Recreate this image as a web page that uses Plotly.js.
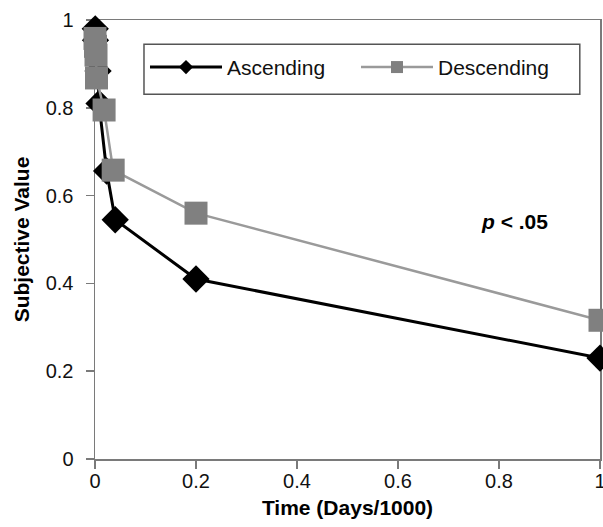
<!DOCTYPE html>
<html>
<head>
<meta charset="utf-8">
<script src="https://cdn.plot.ly/plotly-3.0.1.min.js"></script>
<style>html,body{margin:0;padding:0;background:#fff;}#chart{width:603px;height:527px;}</style>
</head>
<body>
<div id="chart"></div>
<script>
// Data (Time in Days/1000, Subjective Value)
var ascX = [0.0005, 0.001, 0.006, 0.008, 0.023, 0.04, 0.2, 1.0];
var ascY = [0.98, 0.954, 0.884, 0.81, 0.656, 0.545, 0.41, 0.23];
var descX = [0.0, 0.001, 0.002, 0.003, 0.018, 0.036, 0.2, 1.0];
var descY = [0.958, 0.94, 0.92, 0.868, 0.795, 0.658, 0.56, 0.316];
var seriesNames = ["Ascending", "Descending"];
var xTicks = [0, 0.2, 0.4, 0.6, 0.8, 1];
var xTickText = ["0", "0.2", "0.4", "0.6", "0.8", "1"];
var yTicks = [0, 0.2, 0.4, 0.6, 0.8, 1];
var yTickText = ["0", "0.2", "0.4", "0.6", "0.8", "1"];

var axisColor = "#7a7a7a";
var font = "Liberation Sans, Arial, sans-serif";
var ascColor = "#000000", descLine = "#9a9a9a", descMarker = "#808080";

var traces = [
  {
    x: ascX, y: ascY, name: seriesNames[0], type: "scatter", mode: "lines+markers",
    line: {color: ascColor, width: 3},
    marker: {symbol: "diamond", size: 21, color: ascColor},
    cliponaxis: false, showlegend: false
  },
  {
    x: descX, y: descY, name: seriesNames[1], type: "scatter", mode: "lines+markers",
    line: {color: descLine, width: 2.5},
    marker: {symbol: "square", size: 23, color: descMarker},
    cliponaxis: false, showlegend: false
  },
  // legend entries (no points drawn, smaller legend symbols)
  {
    x: [null], y: [null], name: seriesNames[0], type: "scatter", mode: "lines+markers",
    line: {color: ascColor, width: 3},
    marker: {symbol: "diamond", size: 11, color: ascColor}
  },
  {
    x: [null], y: [null], name: seriesNames[1], type: "scatter", mode: "lines+markers",
    line: {color: descLine, width: 2.5},
    marker: {symbol: "square", size: 12, color: descMarker}
  }
];

var layout = {
  width: 603, height: 527,
  margin: {l: 95, r: 3, t: 20, b: 68},
  paper_bgcolor: "#ffffff", plot_bgcolor: "#ffffff",
  font: {family: font, size: 20, color: "#000"},
  showlegend: true,
  legend: {
    orientation: "h",
    x: 0.099, y: 0.892, xanchor: "left", yanchor: "middle",
    borderwidth: 0, bgcolor: "rgba(0,0,0,0)",
    font: {family: font, size: 21, color: "#111"},
    itemwidth: 72, entrywidth: 124, entrywidthmode: "pixels"
  },
  shapes: [
    {type: "rect", xref: "paper", yref: "paper", x0: 0.097, x1: 0.960, y0: 0.831, y1: 0.945,
     line: {color: "#555555", width: 1.5}, fillcolor: "#ffffff", layer: "below"}
  ],
  xaxis: {
    range: [0, 1], tickvals: xTicks, ticktext: xTickText,
    showline: true, linecolor: axisColor, linewidth: 1.5, mirror: true,
    ticks: "outside", ticklen: 8, tickwidth: 1.5, tickcolor: axisColor,
    showgrid: false, zeroline: false, layer: "below traces",
    ticklabeloverflow: "allow", ticklabelstandoff: -5,
    tickfont: {family: font, size: 20, color: "#111"},
    title: {text: "<b>Time (Days/1000)</b>", font: {family: font, size: 21, color: "#000"}, standoff: 10}
  },
  yaxis: {
    range: [0, 1], tickvals: yTicks, ticktext: yTickText,
    showline: true, linecolor: axisColor, linewidth: 1.5, mirror: true,
    ticks: "outside", ticklen: 8, tickwidth: 1.5, tickcolor: axisColor,
    showgrid: false, zeroline: false, layer: "below traces",
    ticklabelstandoff: 8, ticklabeloverflow: "allow",
    tickfont: {family: font, size: 20, color: "#111"},
    title: {text: "<b>Subjective Value</b>", font: {family: font, size: 21, color: "#000"}, standoff: 10}
  },
  annotations: [
    {
      x: 0.83, y: 0.542, xref: "x", yref: "y", showarrow: false,
      text: "<b><i>p</i> &lt; .05</b>",
      font: {family: font, size: 21, color: "#000"}
    }
  ]
};

Plotly.newPlot("chart", traces, layout, {displayModeBar: false, staticPlot: true});
</script>
</body>
</html>
